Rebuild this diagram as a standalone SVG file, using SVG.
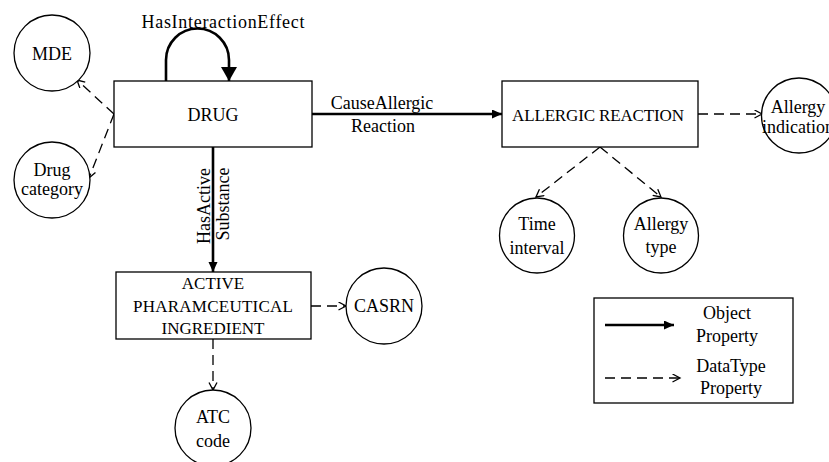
<svg xmlns="http://www.w3.org/2000/svg" width="829" height="462" viewBox="0 0 829 462">
<style>
  text { font-family: "Liberation Serif", "Times New Roman", serif; fill: #000; }
  .lbl { font-size: 18px; }
  .box { font-size: 17px; }
  .node rect, .node circle { fill: #fff; stroke: #000; stroke-width: 1.3; }
  .obj { fill: none; stroke: #000; stroke-width: 2.6; }
  .dt { fill: none; stroke: #000; stroke-width: 1.3; stroke-dasharray: 10 6; }
</style>
<defs>
  <marker id="fill" markerUnits="userSpaceOnUse" markerWidth="11" markerHeight="10" refX="10" refY="4.5" orient="auto">
    <path d="M0,0 L10,4.5 L0,9 z" fill="#000"/>
  </marker>
  <marker id="bigfill" markerUnits="userSpaceOnUse" markerWidth="16" markerHeight="17" refX="14" refY="8" orient="auto">
    <path d="M0,0 L14,8 L0,16 z" fill="#000"/>
  </marker>
  <marker id="open" markerUnits="userSpaceOnUse" markerWidth="10" markerHeight="10" refX="8" refY="4.5" orient="auto">
    <path d="M0.5,0.5 L8,4.5 L0.5,8.5" fill="none" stroke="#000" stroke-width="1.3"/>
  </marker>
</defs>

<g id="connectors">
  <path class="obj" d="M166,81 L166,60 A31.5,31.5 0 0 1 229,60 L229,81" marker-end="url(#bigfill)"/>
  <line class="obj" x1="312" y1="114" x2="502" y2="114" marker-end="url(#fill)"/>
  <line class="obj" x1="213" y1="147" x2="213" y2="272" marker-end="url(#fill)"/>
  <line class="dt" x1="114" y1="114" x2="77" y2="80" marker-end="url(#open)"/>
  <line class="dt" x1="114" y1="114" x2="89" y2="178" marker-end="url(#open)"/>
  <line class="dt" x1="698" y1="114" x2="762" y2="114" marker-end="url(#open)"/>
  <line class="dt" x1="600" y1="147" x2="536" y2="197" marker-end="url(#open)"/>
  <line class="dt" x1="600" y1="147" x2="661" y2="197" marker-end="url(#open)"/>
  <line class="dt" x1="311" y1="306" x2="346" y2="306" marker-end="url(#open)"/>
  <line class="dt" x1="213" y1="339" x2="213" y2="390" marker-end="url(#open)"/>
  <text class="lbl" x="223" y="28" text-anchor="middle" textLength="163">HasInteractionEffect</text>
  <text class="lbl" x="382" y="109" text-anchor="middle">CauseAllergic</text>
  <text class="lbl" x="383" y="132" text-anchor="middle">Reaction</text>
  <text class="lbl" transform="translate(210,206) rotate(-90)" text-anchor="middle">HasActive</text>
  <text class="lbl" transform="translate(229,204) rotate(-90)" text-anchor="middle">Substance</text>
</g>

<g id="drug" class="node">
  <rect x="114" y="81" width="198" height="66"/>
  <text class="lbl" x="213" y="121" text-anchor="middle">DRUG</text>
</g>
<g id="allergic-reaction" class="node">
  <rect x="502" y="81" width="196" height="66"/>
  <text class="box" x="598" y="121" text-anchor="middle" textLength="172">ALLERGIC REACTION</text>
</g>
<g id="api" class="node">
  <rect x="116" y="272" width="195" height="67"/>
  <text class="box" x="213" y="289" text-anchor="middle">ACTIVE</text>
  <text class="box" x="213" y="312" text-anchor="middle" textLength="160">PHARAMCEUTICAL</text>
  <text class="box" x="213" y="334" text-anchor="middle">INGREDIENT</text>
</g>
<g id="mde" class="node">
  <circle cx="52" cy="53" r="38"/>
  <text class="lbl" x="52" y="60" text-anchor="middle">MDE</text>
</g>
<g id="drug-category" class="node">
  <circle cx="52" cy="180" r="38"/>
  <text class="lbl" x="52" y="176" text-anchor="middle">Drug</text>
  <text class="lbl" x="52" y="195" text-anchor="middle">category</text>
</g>
<g id="allergy-indication" class="node">
  <circle cx="799" cy="115.5" r="37.5"/>
  <text class="lbl" x="798" y="113" text-anchor="middle">Allergy</text>
  <text class="lbl" x="798" y="133" text-anchor="middle">indication</text>
</g>
<g id="time-interval" class="node">
  <circle cx="537" cy="235.5" r="37.5"/>
  <text class="lbl" x="537" y="230" text-anchor="middle">Time</text>
  <text class="lbl" x="537" y="254" text-anchor="middle">interval</text>
</g>
<g id="allergy-type" class="node">
  <circle cx="661" cy="235.5" r="37.5"/>
  <text class="lbl" x="661" y="230" text-anchor="middle">Allergy</text>
  <text class="lbl" x="661" y="253" text-anchor="middle">type</text>
</g>
<g id="casrn" class="node">
  <circle cx="384" cy="306" r="38"/>
  <text class="lbl" x="384" y="312" text-anchor="middle">CASRN</text>
</g>
<g id="atc-code" class="node">
  <circle cx="213" cy="428" r="38"/>
  <text class="lbl" x="213" y="423" text-anchor="middle">ATC</text>
  <text class="lbl" x="213" y="447" text-anchor="middle">code</text>
</g>

<g id="legend">
  <rect x="594" y="298" width="199" height="105" fill="#fff" stroke="#000" stroke-width="1.3"/>
  <line class="obj" x1="605" y1="325" x2="674" y2="325" marker-end="url(#fill)"/>
  <line class="dt" x1="605" y1="378" x2="680" y2="378" marker-end="url(#open)"/>
  <text class="lbl" x="727" y="319" text-anchor="middle">Object</text>
  <text class="lbl" x="727" y="342" text-anchor="middle">Property</text>
  <text class="lbl" x="731" y="372" text-anchor="middle">DataType</text>
  <text class="lbl" x="731" y="394" text-anchor="middle">Property</text>
</g>
</svg>
